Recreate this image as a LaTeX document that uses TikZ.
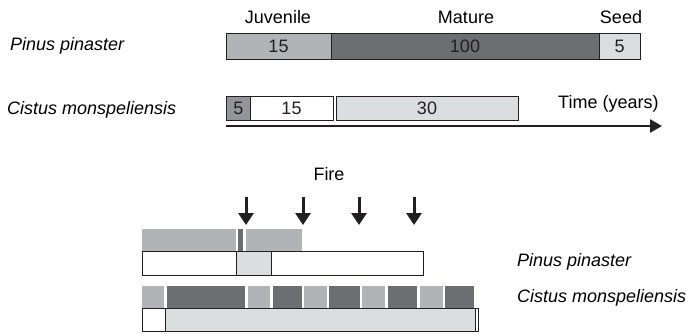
\documentclass[tikz,border=0pt]{standalone}
\usepackage{fontspec}
\setmainfont{Liberation Sans}
\usetikzlibrary{arrows.meta}
\definecolor{midg}{HTML}{B1B3B6}
\definecolor{darkg}{HTML}{6D6E71}
\definecolor{lightg}{HTML}{DCDDDF}
\definecolor{cisg}{HTML}{939598}
\definecolor{edge}{HTML}{231F20}
\begin{document}
\begin{tikzpicture}[x=1pt,y=-1pt,
  txt/.style={inner sep=0pt, font=\fontsize{18}{20}\selectfont},
  sp/.style={txt, font=\fontsize{18}{20}\selectfont\itshape, anchor=base west},
  box/.style={draw=edge, line width=0.8pt, inner sep=0pt, outer sep=0pt, anchor=north west, font=\fontsize{18}{20}\selectfont, text=edge},
  blk/.style={inner sep=0pt, outer sep=0pt, anchor=north west},
  firearrow/.style={line width=3pt, draw=edge, -{Triangle[width=15pt,length=12pt]}, shorten >=0pt}
]
\useasboundingbox (0,0) rectangle (693,333);

% top part
\node[txt, anchor=base] (hj) at (278,23) {Juvenile};
\node[txt, anchor=base] (hm) at (466,23) {Mature};
\node[txt, anchor=base] (hs) at (621,23) {Seed};
\node[sp] (lp1) at (10,50) {Pinus pinaster};
\node[sp] (lc1) at (7,114) {Cistus monspeliensis};

\node[box, fill=midg, minimum width=105pt, minimum height=26pt] (pj) at (226,33) {15};
\node[box, fill=darkg, minimum width=268pt, minimum height=26pt] (pm) at (331,33) {100};
\node[box, fill=lightg, minimum width=41pt, minimum height=26pt] (ps) at (599,33) {5};

\node[box, fill=cisg, minimum width=25pt, minimum height=24pt] (cs) at (226,96) {5};
\node[box, fill=white, minimum width=83pt, minimum height=24pt] (cj) at (250,96) {15};
\node[box, fill=lightg, minimum width=182pt, minimum height=24pt] (cm) at (336,96) {30};

\node[txt, anchor=base west] (time) at (558,108) {Time (years)};
\coordinate (ta) at (226,126);
\coordinate (tb) at (662,126);
\draw[line width=2.5pt, draw=edge, -{Triangle[width=13pt,length=12pt]}] (ta) -- (tb);

% fire part
\node[txt, anchor=base] (fire) at (329,180) {Fire};
\foreach \i/\x in {1/246,2/303,3/359,4/414}{
  \coordinate (fa\i) at (\x,197);
  \coordinate (fb\i) at (\x,225);
  \draw[firearrow] (fa\i) -- (fb\i);
}

% pinus after fire
\node[blk, fill=midg, minimum width=94pt, minimum height=22pt] (g1) at (142,229) {};
\node[blk, fill=darkg, minimum width=5pt, minimum height=22pt] (g2) at (238,229) {};
\node[blk, fill=midg, minimum width=56pt, minimum height=22pt] (g3) at (246,229) {};
\node[box, fill=white, minimum width=94pt, minimum height=24pt] (w1) at (142,251) {};
\node[box, fill=lightg, minimum width=35pt, minimum height=24pt] (w2) at (236,251) {};
\node[box, fill=white, minimum width=152pt, minimum height=24pt] (w3) at (271,251) {};

% cistus after fire
\foreach \n/\a/\b/\c in {1/142/164/midg,2/167/245/darkg,3/248/270/midg,4/273/302/darkg,5/304/327/midg,6/329/360/darkg,7/362/385/midg,8/388/417/darkg,9/420/443/midg,10/445/474/darkg}{
  \pgfmathsetmacro{\w}{\b-\a}
  \node[blk, fill=\c, minimum width=\w pt, minimum height=22pt] (k\n) at (\a,286) {};
}
\node[box, fill=white, minimum width=23pt, minimum height=23pt] (b1) at (142,308) {};
\node[box, fill=lightg, minimum width=310pt, minimum height=23pt] (b2) at (165,308) {};
\node[box, fill=white, minimum width=3pt, minimum height=23pt] (b3) at (475,308) {};

\node[sp] (lp2) at (517,266) {Pinus pinaster};
\node[sp] (lc2) at (517,302) {Cistus monspeliensis};
\end{tikzpicture}
\end{document}
